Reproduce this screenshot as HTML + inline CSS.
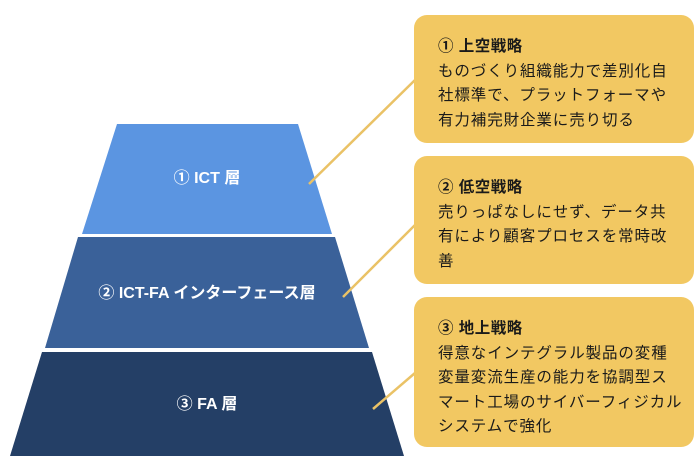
<!DOCTYPE html>
<html><head><meta charset="utf-8"><style>
body{margin:0;width:700px;height:474px;background:#fff;overflow:hidden;position:relative;font-family:"Liberation Sans","Noto Sans CJK JP",sans-serif}
svg{position:absolute;left:0;top:0}
.box{position:absolute;left:414px;width:280px;background:#f2c862;border-radius:13px;box-sizing:border-box;padding:20px 0 0 24px;color:#1a1a1a;font-size:15.5px;line-height:24.5px;letter-spacing:0.9px}
.box b{font-weight:bold;letter-spacing:0.5px}
</style></head><body>
<svg width="700" height="474">
<polygon points="117,124 298,124 332,234 82,234" fill="#5b95e1"/>
<polygon points="78,237 335,237 369,348 45,348" fill="#3a6199"/>
<polygon points="42,352 372,352 404,456 10,456" fill="#243f66"/>
<g stroke="#eac266" stroke-width="2.5">
<line x1="309" y1="184" x2="415" y2="80"/>
<line x1="343" y1="297" x2="415" y2="225"/>
<line x1="373" y1="409" x2="415" y2="373"/>
</g>
<g fill="#fff" font-weight="bold" font-size="16" text-anchor="middle" font-family="Liberation Sans, Noto Sans CJK JP, sans-serif">
<text x="207" y="183">① ICT 層</text>
<text x="207" y="298">② ICT-FA インターフェース層</text>
<text x="207" y="409">③ FA 層</text>
</g>
</svg>
<div class="box" style="top:15px;height:128px"><b>① 上空戦略</b><br>ものづくり組織能力で差別化自<br>社標準で、プラットフォーマや<br>有力補完財企業に売り切る</div>
<div class="box" style="top:156px;height:128px"><b>② 低空戦略</b><br>売りっぱなしにせず、データ共<br>有により顧客プロセスを常時改<br>善</div>
<div class="box" style="top:297px;height:150px"><b>③ 地上戦略</b><br>得意なインテグラル製品の変種<br>変量変流生産の能力を協調型ス<br>マート工場のサイバーフィジカル<br>システムで強化</div>
</body></html>
